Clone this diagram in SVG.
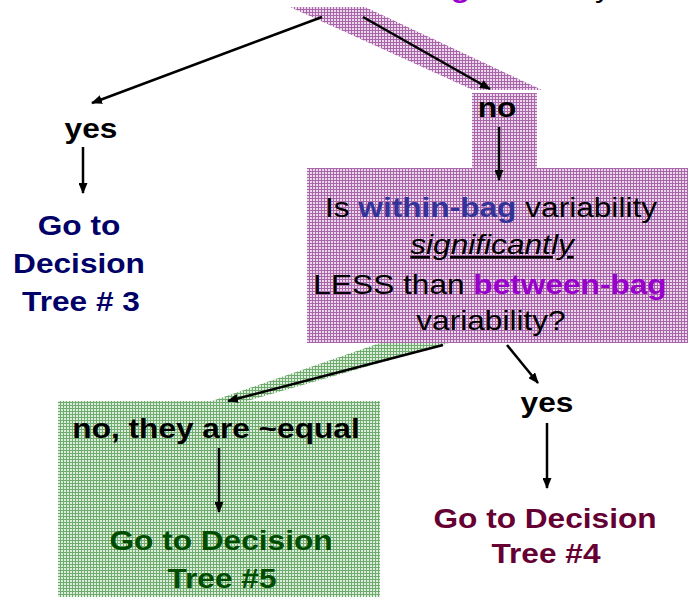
<svg xmlns="http://www.w3.org/2000/svg" width="688" height="597" viewBox="0 0 688 597">
<style>
text{font-family:"Liberation Sans",Arial,sans-serif;font-size:28px;text-anchor:middle}
.b{font-weight:bold}
.conn line{stroke:#000;stroke-width:2.5;marker-end:url(#ah)}
</style>
<defs>
<pattern id="pp" width="3" height="3" patternUnits="userSpaceOnUse">
<rect width="3" height="3" fill="#ECD8EC"/>
<rect width="3" height="1" fill="#A866A8"/>
<rect width="1" height="3" fill="#A866A8"/>
</pattern>
<pattern id="gp" width="3" height="3" patternUnits="userSpaceOnUse">
<rect width="3" height="3" fill="#DDEEDD"/>
<rect width="3" height="1" fill="#6FAA6F"/>
<rect width="1" height="3" fill="#6FAA6F"/>
</pattern>
<marker id="ah" markerWidth="11" markerHeight="9" refX="10" refY="4.5" orient="auto" markerUnits="userSpaceOnUse">
<path d="M0,0 L11,4.5 L0,9 Z" fill="#000"/>
</marker>
</defs>
<g id="top-clipped"><text transform="translate(0,-3) scale(1.13,1)" x="0" y="0" style="text-anchor:start"><tspan x="245" class="b" fill="#9900CC">between-bag</tspan><tspan fill="#000"> variability</tspan></text></g>
<g id="purple-shapes">
<polygon points="290,7 365,7 542,90 473,90" fill="url(#pp)"/>
<rect x="472" y="93" width="65" height="75" fill="url(#pp)"/>
<rect x="307" y="168" width="381" height="175" fill="url(#pp)"/>
</g>
<g id="green-shapes">
<polygon points="380,343 449,343 247,401 212,401" fill="url(#gp)"/>
<rect x="58" y="401" width="322" height="196" fill="url(#gp)"/>
</g>
<g id="node-yes-left"><text class="b" transform="translate(91,138) scale(1.13,1)">yes</text></g>
<g id="node-tree3" fill="#000066">
<text class="b" transform="translate(79,235) scale(1.13,1)">Go to</text>
<text class="b" transform="translate(79,273) scale(1.13,1)">Decision</text>
<text class="b" transform="translate(81,311) scale(1.13,1)">Tree # 3</text>
</g>
<g id="node-no"><text class="b" transform="translate(497,117) scale(1.13,1)">no</text></g>
<g id="node-question" fill="#000">
<text transform="translate(491,217) scale(1.13,1)">Is <tspan class="b" fill="#333399">within-bag</tspan> variability</text>
<text transform="translate(492,254) scale(1.13,1)" font-style="italic" text-decoration="underline">significantly</text>
<text transform="translate(490,294) scale(1.13,1)">LESS than <tspan class="b" fill="#9900CC">between-bag</tspan></text>
<text transform="translate(491,330) scale(1.13,1)">variability?</text>
</g>
<g id="node-equal"><text class="b" transform="translate(216,438) scale(1.13,1)">no, they are ~equal</text></g>
<g id="node-tree5" fill="#004D00">
<text class="b" transform="translate(221,550) scale(1.13,1)">Go to Decision</text>
<text class="b" transform="translate(222,588) scale(1.13,1)">Tree #5</text>
</g>
<g id="node-yes-right"><text class="b" transform="translate(547,412) scale(1.13,1)">yes</text></g>
<g id="node-tree4" fill="#660033">
<text class="b" transform="translate(545,528) scale(1.13,1)">Go to Decision</text>
<text class="b" transform="translate(546,563) scale(1.13,1)">Tree #4</text>
</g>
<g id="connectors" class="conn">
<line x1="322" y1="17" x2="92" y2="103"/>
<line x1="363" y1="17" x2="490" y2="89"/>
<line x1="83" y1="147" x2="83" y2="193"/>
<line x1="499" y1="127" x2="499" y2="180"/>
<line x1="443" y1="345" x2="228" y2="401"/>
<line x1="507" y1="345" x2="538" y2="383"/>
<line x1="219" y1="448" x2="219" y2="512"/>
<line x1="547" y1="423" x2="547" y2="488"/>
</g>
</svg>
